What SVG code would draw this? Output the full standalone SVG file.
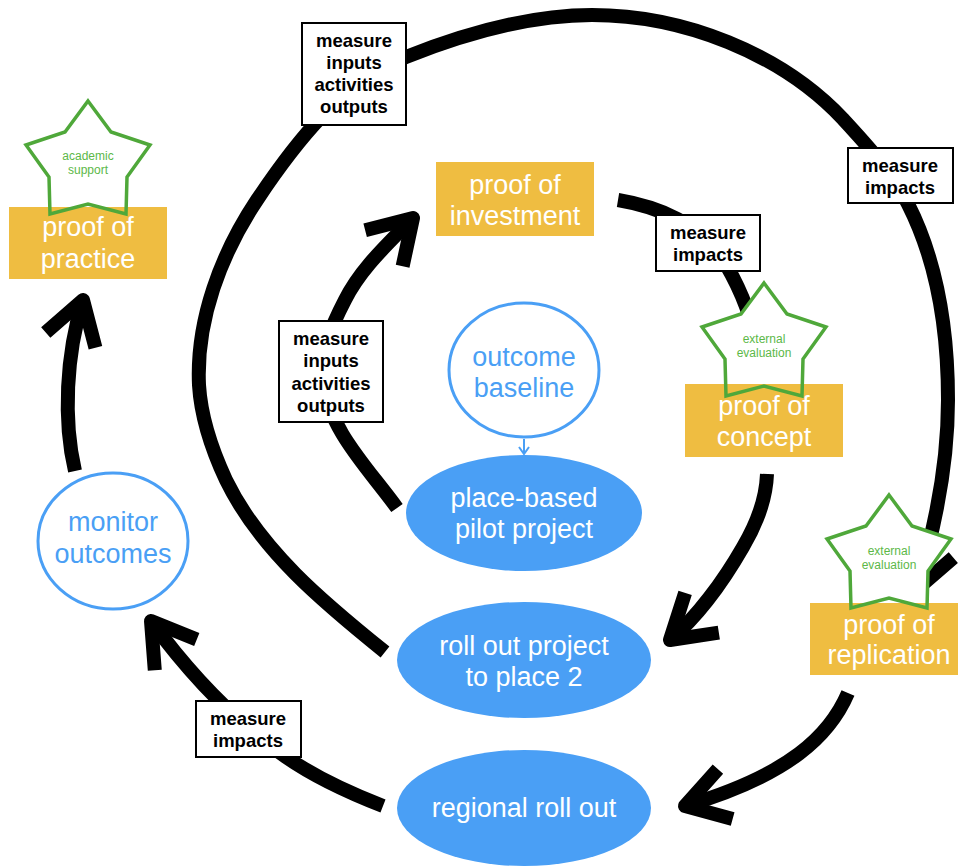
<svg xmlns="http://www.w3.org/2000/svg" xmlns:xlink="http://www.w3.org/1999/xlink" width="958" height="866" viewBox="0 0 958 866">
<style>
  .conn{fill:none;stroke:#000;stroke-width:14;stroke-linecap:butt}
  .arr{marker-end:url(#ah)}
  .proof{fill:#EFBD41}
  .txt{font-family:"Liberation Sans",Arial,Helvetica,sans-serif;text-anchor:middle}
  .ptxt{font-size:27px;fill:#fff}
  .btxt{font-size:27px;fill:#4A9FF5}
  .ell{fill:#4A9FF5}
  .circ{fill:#fff;stroke:#4A9FF5;stroke-width:3}
  .mbox{fill:#fff;stroke:#000;stroke-width:2}
  .mtxt{font-size:18.5px;font-weight:bold;fill:#000}
  .starf{fill:#fff;stroke:none}
  .stars{fill:none;stroke:#4FA83A;stroke-width:3.5}
  .stxt{font-size:12px;fill:#5CB848}
  .thin{fill:none;stroke:#4A9FF5;stroke-width:2;marker-end:url(#ahs)}
</style>
<defs>
  <marker id="ah" markerUnits="userSpaceOnUse" orient="auto" overflow="visible" refX="0" refY="0" markerWidth="1" markerHeight="1">
    <path d="M-42,-26 L0,0 L-42,26" fill="none" stroke="#000" stroke-width="14" stroke-linejoin="round" stroke-linecap="butt"/>
  </marker>
  <marker id="ahs" markerUnits="userSpaceOnUse" orient="auto" overflow="visible" refX="0" refY="0" markerWidth="1" markerHeight="1">
    <path d="M-7,-5 L0,0 L-7,5" fill="none" stroke="#4A9FF5" stroke-width="2"/>
  </marker>
  <polygon id="star" points="0,0 23,31 62,44 39,76 38,113 0,103 -38,113 -39,76 -62,44 -23,31"/>
</defs>

<g id="connectors">
  <path id="c-outer" class="conn arr" d="M385,652 C324,603 260,550 226,480 C212,450 201,418 199,385 C196,320 221,254 257,200 C295,143 342,82 406,57 C465,33.5 528,15 592,15 C683,15 781,53 843,119 C867,145 892,172 908,204 C938,263 948,333 948,400 C948,464 935,529 916,590"/>
  <path id="c-pilot-investment" class="conn arr" d="M397,508 C368,468 328,429 323,380 C320,352 332,325 345,300 C361,268 388,244 413,218"/>
  <path id="c-investment-concept" class="conn" d="M618,200 C660,207 700,225 720,255 C735,278 748,305 756,340"/>
  <path id="c-concept-rollout" class="conn arr" d="M767,474 C766,500 756,525 743,547 C723.5,581 697,617 670,640"/>
  <path id="c-monitor-practice" class="conn arr" d="M75,471 C63,420 66,355 83,300"/>
  <path id="c-regional-monitor" class="conn arr" d="M383,806 C349.5,793 315.5,777.5 286,757 C233.5,720.5 189,673 151,621"/>
  <path id="c-replication-regional" class="conn arr" d="M848,693 C830,735 790,775 685,806"/>
  <path id="c-baseline-pilot" class="thin" d="M524,439 L524,454"/>
</g>

<g id="connector-labels">
  <g id="label-outer-inputs">
    <rect class="mbox" x="302" y="23" width="104" height="102"/>
    <text class="txt mtxt" x="354" y="47">measure</text>
    <text class="txt mtxt" x="354" y="69">inputs</text>
    <text class="txt mtxt" x="354" y="91">activities</text>
    <text class="txt mtxt" x="354" y="113">outputs</text>
  </g>
  <g id="label-inner-inputs">
    <rect class="mbox" x="279" y="321" width="104" height="101"/>
    <text class="txt mtxt" x="331" y="345">measure</text>
    <text class="txt mtxt" x="331" y="367">inputs</text>
    <text class="txt mtxt" x="331" y="390">activities</text>
    <text class="txt mtxt" x="331" y="412">outputs</text>
  </g>
  <g id="label-outer-impacts">
    <rect class="mbox" x="848" y="148" width="105" height="55"/>
    <text class="txt mtxt" x="900" y="172">measure</text>
    <text class="txt mtxt" x="900" y="194">impacts</text>
  </g>
  <g id="label-inner-impacts">
    <rect class="mbox" x="656" y="215" width="104" height="56"/>
    <text class="txt mtxt" x="708" y="239">measure</text>
    <text class="txt mtxt" x="708" y="261">impacts</text>
  </g>
  <g id="label-regional-impacts">
    <rect class="mbox" x="196" y="701" width="105" height="56"/>
    <text class="txt mtxt" x="248" y="725">measure</text>
    <text class="txt mtxt" x="248" y="747">impacts</text>
  </g>
</g>

<g id="proof-of-practice">
  <use xlink:href="#star" href="#star" class="starf" transform="translate(88,101)"/>
  <rect class="proof" x="9" y="207" width="158" height="72"/>
  <use xlink:href="#star" href="#star" class="stars" transform="translate(88,101)"/>
  <text class="txt stxt" x="88" y="160">academic</text>
  <text class="txt stxt" x="88" y="174">support</text>
  <text class="txt ptxt" x="88" y="236">proof of</text>
  <text class="txt ptxt" x="88" y="268">practice</text>
</g>

<g id="proof-of-investment">
  <rect class="proof" x="436" y="162" width="158" height="74"/>
  <text class="txt ptxt" x="515" y="194">proof of</text>
  <text class="txt ptxt" x="515" y="225">investment</text>
</g>

<g id="proof-of-concept">
  <use xlink:href="#star" href="#star" class="starf" transform="translate(764,283)"/>
  <rect class="proof" x="685" y="384" width="158" height="73"/>
  <use xlink:href="#star" href="#star" class="stars" transform="translate(764,283)"/>
  <text class="txt stxt" x="764" y="343">external</text>
  <text class="txt stxt" x="764" y="357">evaluation</text>
  <text class="txt ptxt" x="764" y="415">proof of</text>
  <text class="txt ptxt" x="764" y="446">concept</text>
</g>

<g id="proof-of-replication">
  <use xlink:href="#star" href="#star" class="starf" transform="translate(889,495)"/>
  <rect class="proof" x="810" y="603" width="158" height="72"/>
  <use xlink:href="#star" href="#star" class="stars" transform="translate(889,495)"/>
  <text class="txt stxt" x="889" y="555">external</text>
  <text class="txt stxt" x="889" y="569">evaluation</text>
  <text class="txt ptxt" x="889" y="634">proof of</text>
  <text class="txt ptxt" x="889" y="664">replication</text>
</g>

<g id="outcome-baseline">
  <ellipse class="circ" cx="524" cy="370" rx="75" ry="67"/>
  <text class="txt btxt" x="524" y="366">outcome</text>
  <text class="txt btxt" x="524" y="397">baseline</text>
</g>

<g id="place-based-pilot">
  <ellipse class="ell" cx="524" cy="513" rx="118" ry="58"/>
  <text class="txt ptxt" x="524" y="507">place-based</text>
  <text class="txt ptxt" x="524" y="538">pilot project</text>
</g>

<g id="roll-out-place-2">
  <ellipse class="ell" cx="524" cy="660" rx="127" ry="58"/>
  <text class="txt ptxt" x="524" y="655">roll out project</text>
  <text class="txt ptxt" x="524" y="686">to place 2</text>
</g>

<g id="regional-roll-out">
  <ellipse class="ell" cx="524" cy="808" rx="127" ry="58"/>
  <text class="txt ptxt" x="524" y="817">regional roll out</text>
</g>

<g id="monitor-outcomes">
  <ellipse class="circ" cx="113" cy="541" rx="75" ry="68"/>
  <text class="txt btxt" x="113" y="531">monitor</text>
  <text class="txt btxt" x="113" y="563">outcomes</text>
</g>
</svg>
